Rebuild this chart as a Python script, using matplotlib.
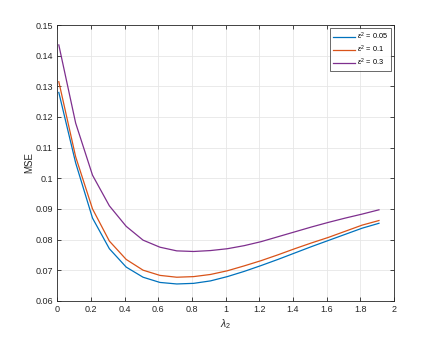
import matplotlib
matplotlib.use("Agg")
import matplotlib.pyplot as plt
import numpy as np

plt.rcParams['font.family'] = ['Liberation Sans', 'DejaVu Sans']
plt.rcParams['mathtext.fontset'] = 'custom'
plt.rcParams['mathtext.rm'] = 'Liberation Sans'
plt.rcParams['mathtext.it'] = 'Liberation Sans:italic'

lam2 = [0.01, 0.11, 0.21, 0.31, 0.41, 0.51, 0.61, 0.71, 0.81, 0.91,
        1.01, 1.11, 1.21, 1.31, 1.41, 1.51, 1.61, 1.71, 1.81, 1.91]
mse_005 = [0.128, 0.105, 0.087, 0.077, 0.071, 0.0677, 0.0660, 0.0655, 0.0657, 0.0665,
           0.0679, 0.0696, 0.0715, 0.0735, 0.0756, 0.0777, 0.0797, 0.0817, 0.0837, 0.0853]
mse_01 = [0.1315, 0.107, 0.090, 0.0795, 0.0735, 0.0700, 0.0683, 0.0677, 0.0679, 0.0686,
          0.0698, 0.0714, 0.0731, 0.0750, 0.0770, 0.0789, 0.0807, 0.0827, 0.0847, 0.0862]
mse_03 = [0.1435, 0.118, 0.101, 0.091, 0.0843, 0.0798, 0.0775, 0.0763, 0.0761, 0.0764,
          0.0770, 0.0780, 0.0793, 0.0809, 0.0825, 0.0841, 0.0856, 0.0870, 0.0883, 0.0897]
labels = [r'$\varepsilon^2$ = 0.05', r'$\varepsilon^2$ = 0.1', r'$\varepsilon^2$ = 0.3']
colors = ['#0072BD', '#D95319', '#7E2F8E']

fig = plt.figure(figsize=(4.36, 3.38), dpi=100)
ax = fig.add_axes([0.131, 0.110, 0.773, 0.816])
for y, lab, c in zip([mse_005, mse_01, mse_03], labels, colors):
    ax.plot(lam2, y, color=c, lw=0.9, label=lab)

ax.set_xlim(0, 2)
ax.set_ylim(0.06, 0.15)
ax.set_xticks(np.arange(0, 2.01, 0.2))
ax.set_xticklabels(['0', '0.2', '0.4', '0.6', '0.8', '1', '1.2', '1.4', '1.6', '1.8', '2'])
ax.set_yticks(np.arange(0.06, 0.1501, 0.01))
ax.set_yticklabels(['0.06', '0.07', '0.08', '0.09', '0.1', '0.11', '0.12', '0.13', '0.14', '0.15'])
ax.grid(True, color='#e6e6e6', lw=0.6)
ax.set_axisbelow(True)
ax.tick_params(direction='in', length=3, width=0.6, labelsize=6.5, colors='#262626',
               top=True, right=True, pad=3)
for s in ax.spines.values():
    s.set_color('#262626')
    s.set_linewidth(0.6)
ax.set_xlabel(r'$\lambda_2$', fontsize=7.5, color='#262626', labelpad=2)
ax.set_ylabel('MSE', fontsize=7, color='#262626', labelpad=1)
leg = ax.legend(loc='upper right', fontsize=5.3, frameon=True, fancybox=False,
                edgecolor='#262626', handlelength=3.0, borderaxespad=0.45,
                labelspacing=0.25, handletextpad=0.3, borderpad=0.35)
leg.get_frame().set_linewidth(0.6)
fig.savefig('out.png', dpi=100)
